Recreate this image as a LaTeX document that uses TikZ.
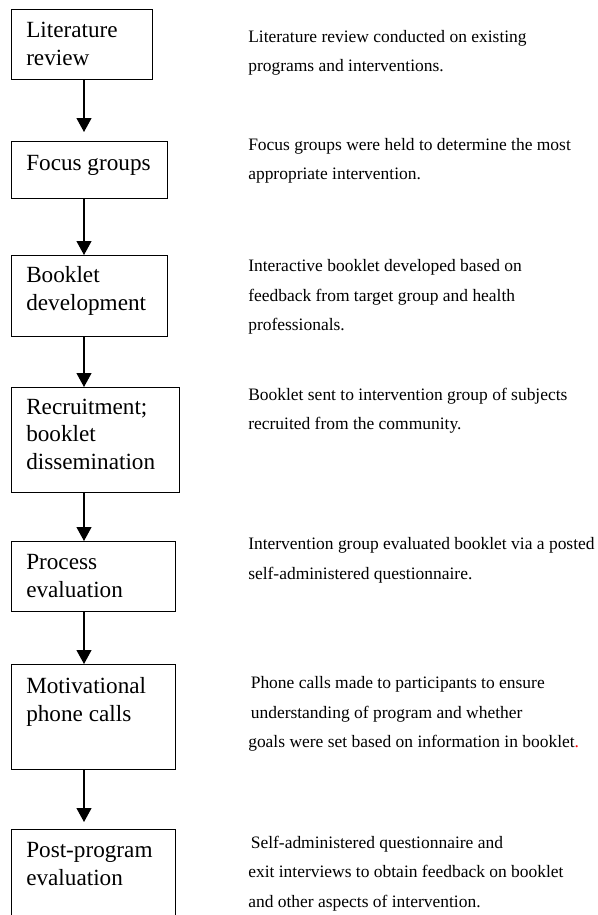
\documentclass[tikz,border=0pt]{standalone}
\usepackage{fontspec}
\setmainfont{Liberation Serif}
\usetikzlibrary{arrows.meta}

\newlength{\pxu}
\setlength{\pxu}{0.75pt}

\tikzset{
  stagebox/.style={draw=black, line width=0.9pt, rectangle, anchor=north west, inner sep=0pt},
  stagetext/.style={anchor=base west, align=left, inner sep=0pt, font=\fontsize{17.4}{20.3}\selectfont},
  notetext/.style={anchor=base west, align=left, inner sep=0pt, font=\fontsize{13.1}{22.1}\selectfont},
  flow/.style={line width=0.9pt, -{Triangle[width=11.25pt, length=10.5pt]}}
}

\begin{document}
\begin{tikzpicture}[x=\pxu, y=-\pxu]
\useasboundingbox (0,0) rectangle (598,915);

% stages
\node[stagebox, minimum width=141\pxu, minimum height=70\pxu] (lit) at (11,9) {};
\node[stagebox, minimum width=156\pxu, minimum height=57\pxu] (focus) at (11,141) {};
\node[stagebox, minimum width=156\pxu, minimum height=81\pxu] (booklet) at (11,255) {};
\node[stagebox, minimum width=168\pxu, minimum height=105\pxu] (recruit) at (11,387) {};
\node[stagebox, minimum width=164\pxu, minimum height=70\pxu] (process) at (11,541) {};
\node[stagebox, minimum width=164\pxu, minimum height=105\pxu] (motiv) at (11,664) {};
\node[stagebox, minimum width=164\pxu, minimum height=110\pxu] (post) at (11,829) {};

% stage labels (placed by the baseline of their last line)
\node[stagetext] (litT) at ([shift={(15,56)}]lit.north west) {Literature\\review};
\node[stagetext] (focusT) at ([shift={(15,29)}]focus.north west) {Focus groups};
\node[stagetext] (bookletT) at ([shift={(15,55)}]booklet.north west) {Booklet\\development};
\node[stagetext] (recruitT) at ([shift={(15,82)}]recruit.north west) {Recruitment;\\booklet\\dissemination};
\node[stagetext] (processT) at ([shift={(15,56)}]process.north west) {Process\\evaluation};
\node[stagetext] (motivT) at ([shift={(15,57)}]motiv.north west) {Motivational\\phone calls};
\node[stagetext] (postT) at ([shift={(15,56)}]post.north west) {Post-program\\evaluation};

% arrows
\coordinate (ax) at (84,0);
\draw[flow, shorten >=6.75pt] (lit.south -| ax) -- (focus.north -| ax);
\draw[flow] (focus.south -| ax) -- (booklet.north -| ax);
\draw[flow] (booklet.south -| ax) -- (recruit.north -| ax);
\draw[flow] (recruit.south -| ax) -- (process.north -| ax);
\draw[flow] (process.south -| ax) -- (motiv.north -| ax);
\draw[flow, shorten >=5.25pt] (motiv.south -| ax) -- (post.north -| ax);

% notes
\node[notetext] (litN) at (248,71.7) {Literature review conducted on existing\\programs and interventions.};
\node[notetext] (focusN) at (248,179.8) {Focus groups were held to determine the most\\appropriate intervention.};
\node[notetext] (bookletN) at (248,330.5) {Interactive booklet developed based on\\feedback from target group and health\\professionals.};
\node[notetext] (recruitN) at (248,429.5) {Booklet sent to intervention group of subjects\\recruited from the community.};
\node[notetext] (processN) at (248,579.3) {Intervention group evaluated booklet via a posted\\self-administered questionnaire.};
\node[notetext] (motivN) at (248,747.6) {\hspace*{1.9pt}Phone calls made to participants to ensure\\\hspace*{1.9pt}understanding of program and whether\\goals were set based on information in booklet\textcolor{red}{.}};
\node[notetext] (postN) at (248,907.3) {\hspace*{1.9pt}Self-administered questionnaire and\\exit interviews to obtain feedback on booklet\\and other aspects of intervention.};
\end{tikzpicture}
\end{document}
